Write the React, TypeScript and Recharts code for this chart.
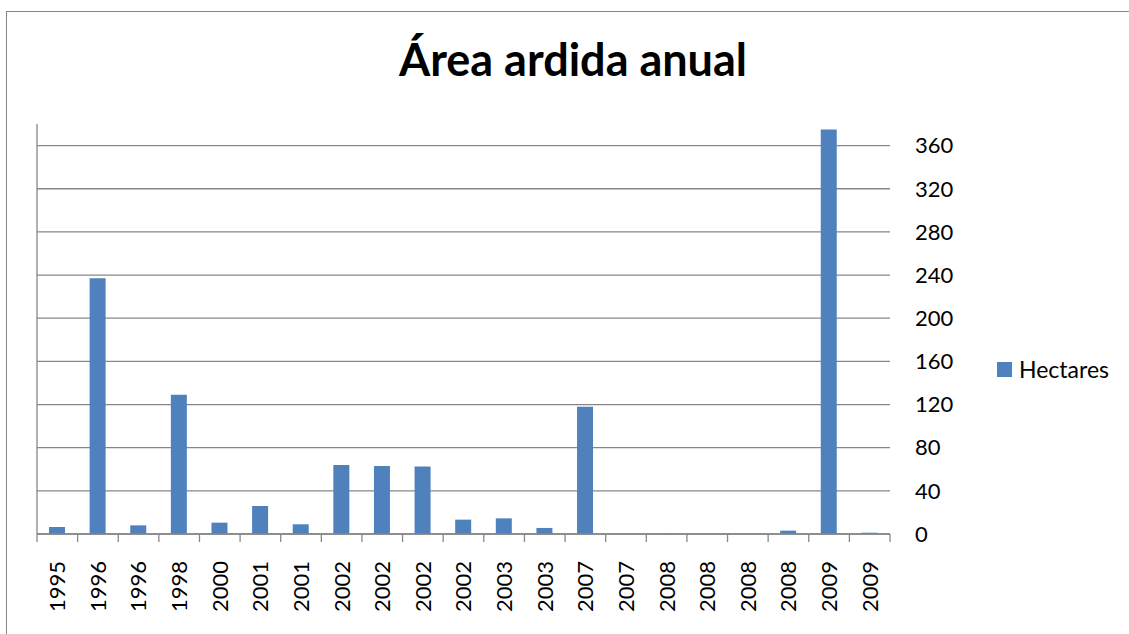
import { BarChart, Bar, XAxis, YAxis, CartesianGrid } from "recharts";

const years = [
  "1995", "1996", "1996", "1998", "2000", "2001", "2001", "2002", "2002", "2002", "2002",
  "2003", "2003", "2007", "2007", "2008", "2008", "2008", "2008", "2009", "2009",
];
const hectares = [
  6.5, 237, 8, 129, 10.5, 26, 9, 64, 63, 62.5, 13.3,
  14.5, 5.6, 118, 0, 0.3, 0, 0, 3.1, 375, 1.2,
];
const yTicks = [0, 40, 80, 120, 160, 200, 240, 280, 320, 360];

const data = years.map((year, i) => ({ year, hectares: hectares[i] }));

const FONT = "Lato, Carlito, Calibri, sans-serif";
const GRID = "#878787";
const BLUE = "#4f81bd";

// year label, plus tick marks on the category boundaries (Excel style)
function YearTick({ x, y, payload, index, width, visibleTicksCount }: any) {
  const half = payload.offset || width / (2 * visibleTicksCount);
  const last = index === visibleTicksCount - 1;
  return (
    <g>
      <line x1={x - half} x2={x - half} y1={y} y2={y + 8} stroke={GRID} strokeWidth={1.3} />
      {last && (
        <line x1={x + half} x2={x + half} y1={y} y2={y + 8} stroke={GRID} strokeWidth={1.3} />
      )}
      <text
        x={x}
        y={y + 27}
        transform={`rotate(-90, ${x}, ${y + 27})`}
        textAnchor="end"
        dy="0.36em"
        fontSize={22}
        fontFamily={FONT}
        fill="#000"
      >
        {payload.value}
      </text>
    </g>
  );
}

// tick lines only, no labels
function EmptyTick() {
  return <g />;
}

export default function App() {
  return (
    <div
      style={{
        position: "fixed",
        left: 0,
        top: 0,
        width: 1129,
        height: 634,
        overflow: "hidden",
        background: "#fff",
      }}
    >
      <div
        style={{
          position: "absolute",
          left: 6,
          top: 11,
          width: 1200,
          height: 700,
          border: `1.5px solid ${GRID}`,
        }}
      />
      <div
        style={{
          position: "absolute",
          left: 0,
          width: 1146,
          top: 34,
          textAlign: "center",
          fontFamily: FONT,
          fontWeight: 700,
          fontSize: 45,
          lineHeight: "50px",
          color: "#000",
        }}
      >
        Área ardida anual
      </div>
      <div style={{ position: "absolute", left: 0, top: 0 }}>
        <BarChart
          width={1129}
          height={634}
          data={data}
          margin={{ top: 124, right: 0, bottom: 0, left: 0 }}
          barSize={16}
        >
          <CartesianGrid
            xAxisId="cat"
            yAxisId="r"
            vertical={false}
            syncWithTicks
            stroke={GRID}
            strokeWidth={1.3}
          />
          <XAxis
            xAxisId="cat"
            dataKey="year"
            interval={0}
            height={100}
            tickSize={0}
            tickMargin={0}
            tickLine={false}
            axisLine={{ stroke: GRID, strokeWidth: 1.3 }}
            tick={<YearTick />}
          />
          <YAxis
            yAxisId="l"
            orientation="left"
            width={37}
            domain={[0, 380]}
            ticks={yTicks}
            interval={0}
            tick={<EmptyTick />}
            tickSize={8}
            tickLine={{ stroke: GRID, strokeWidth: 1.3 }}
            axisLine={{ stroke: GRID, strokeWidth: 1.3 }}
          />
          <YAxis
            yAxisId="r"
            orientation="right"
            width={239}
            domain={[0, 380]}
            ticks={yTicks}
            interval={0}
            tickSize={0}
            tickMargin={25}
            tickLine={false}
            axisLine={false}
            tick={{ fontSize: 22, fontFamily: FONT, fill: "#000", textAnchor: "start" }}
          />
          <Bar
            dataKey="hectares"
            xAxisId="cat"
            yAxisId="r"
            fill={BLUE}
            isAnimationActive={false}
          />
        </BarChart>
      </div>
      <div
        style={{
          position: "absolute",
          left: 997,
          top: 354,
          display: "flex",
          alignItems: "center",
          fontFamily: FONT,
          fontSize: 23,
          color: "#000",
          lineHeight: "30px",
        }}
      >
        <span
          style={{
            display: "inline-block",
            width: 15,
            height: 15,
            background: BLUE,
            marginRight: 7,
          }}
        />
        Hectares
      </div>
    </div>
  );
}
